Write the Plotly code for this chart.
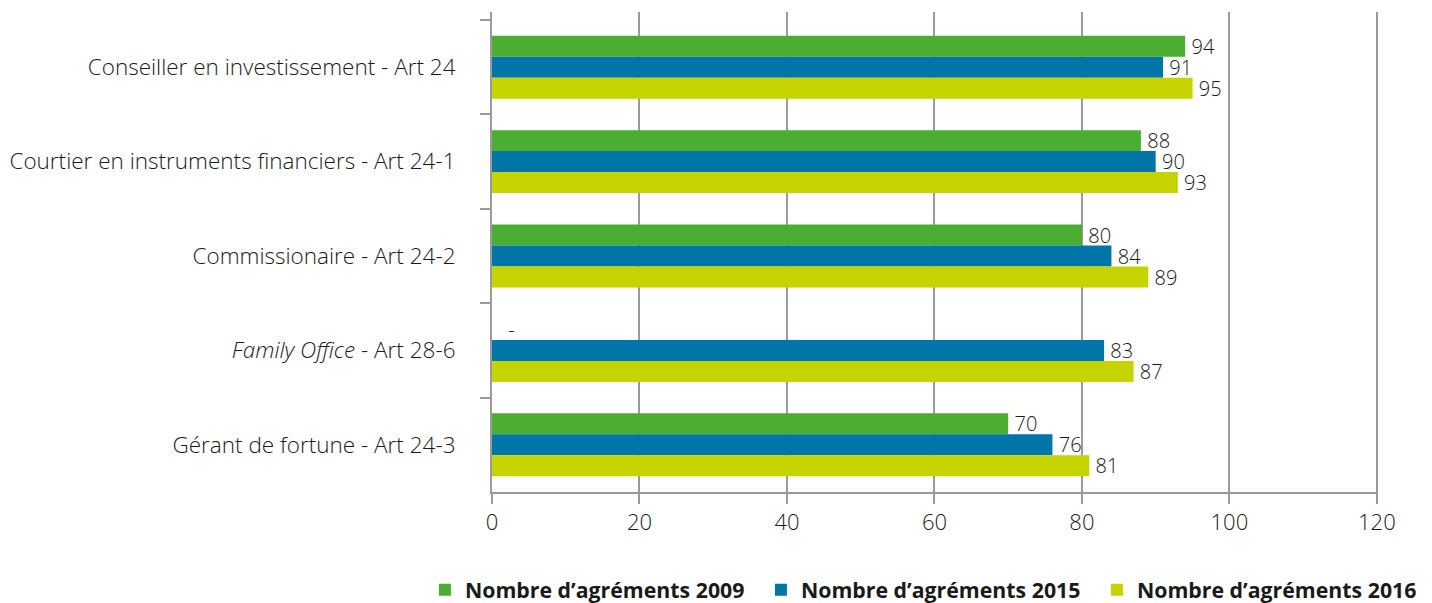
import plotly.graph_objects as go

categories = [
    "Conseiller en investissement - Art 24",
    "Courtier en instruments financiers - Art 24-1",
    "Commissionaire - Art 24-2",
    "<i>Family Office</i> - Art 28-6",
    "Gérant de fortune - Art 24-3",
]
series_names = ["Nombre d’agréments 2009", "Nombre d’agréments 2015", "Nombre d’agréments 2016"]
values_2009 = [94, 88, 80, None, 70]
values_2015 = [91, 90, 84, 83, 76]
values_2016 = [95, 93, 89, 87, 81]
colors = ["#4BAE32", "#0075A8", "#C5D300"]
x_ticks = [0, 20, 40, 60, 80, 100, 120]

FONT = "Open Sans"
fig = go.Figure()
for name, vals, col in zip(series_names, [values_2009, values_2015, values_2016], colors):
    xs = [0 if v is None else v for v in vals]
    txt = ["\u2002\u2009-" if v is None else "\u2009" + str(v) for v in vals]
    fig.add_trace(go.Bar(
        y=categories, x=xs, name=name, orientation="h",
        marker=dict(color=col, line=dict(width=0)),
        text=txt, textposition="outside", constraintext="none", cliponaxis=False,
        textfont=dict(family=FONT, size=20, color="#1a1a1a", weight=300),
    ))

fig.update_layout(
    width=1432, height=603,
    margin=dict(l=492, r=54, t=12, b=111, autoexpand=False),
    paper_bgcolor="white", plot_bgcolor="white",
    barmode="group", bargap=0.333, bargroupgap=0,
    font=dict(family=FONT, size=18, color="#1a1a1a", weight=300),
    showlegend=True,
    legend=dict(orientation="h", x=-0.0757, xanchor="left", y=-0.204, yanchor="middle",
                font=dict(family=FONT, size=21.3, color="#1a1a1a", weight=700),
                itemsizing="constant", tracegroupgap=0,
                entrywidth=291, entrywidthmode="pixels"),
)
fig.update_xaxes(
    range=[0, 120.15], tickvals=x_ticks, ticktext=[str(t) for t in x_ticks],
    showgrid=True, gridcolor="#9a9a9a", gridwidth=2,
    showline=True, linecolor="#9a9a9a", linewidth=2,
    ticks="outside", ticklen=10, tickcolor="#9a9a9a", tickwidth=2,
    tickfont=dict(family=FONT, size=22, color="#1a1a1a", weight=300),
    zeroline=False,
)
fig.update_yaxes(
    categoryorder="array", categoryarray=categories,
    range=[4.5, -0.585],
    showgrid=False, showline=True, linecolor="#9a9a9a", linewidth=2,
    ticks="outside", tickson="boundaries", ticklen=10, tickcolor="#9a9a9a", tickwidth=2,
    tickfont=dict(family=FONT, size=22.5, color="#1a1a1a", weight=300),
    ticklabelstandoff=30,
)
fig.write_html("out.html")
